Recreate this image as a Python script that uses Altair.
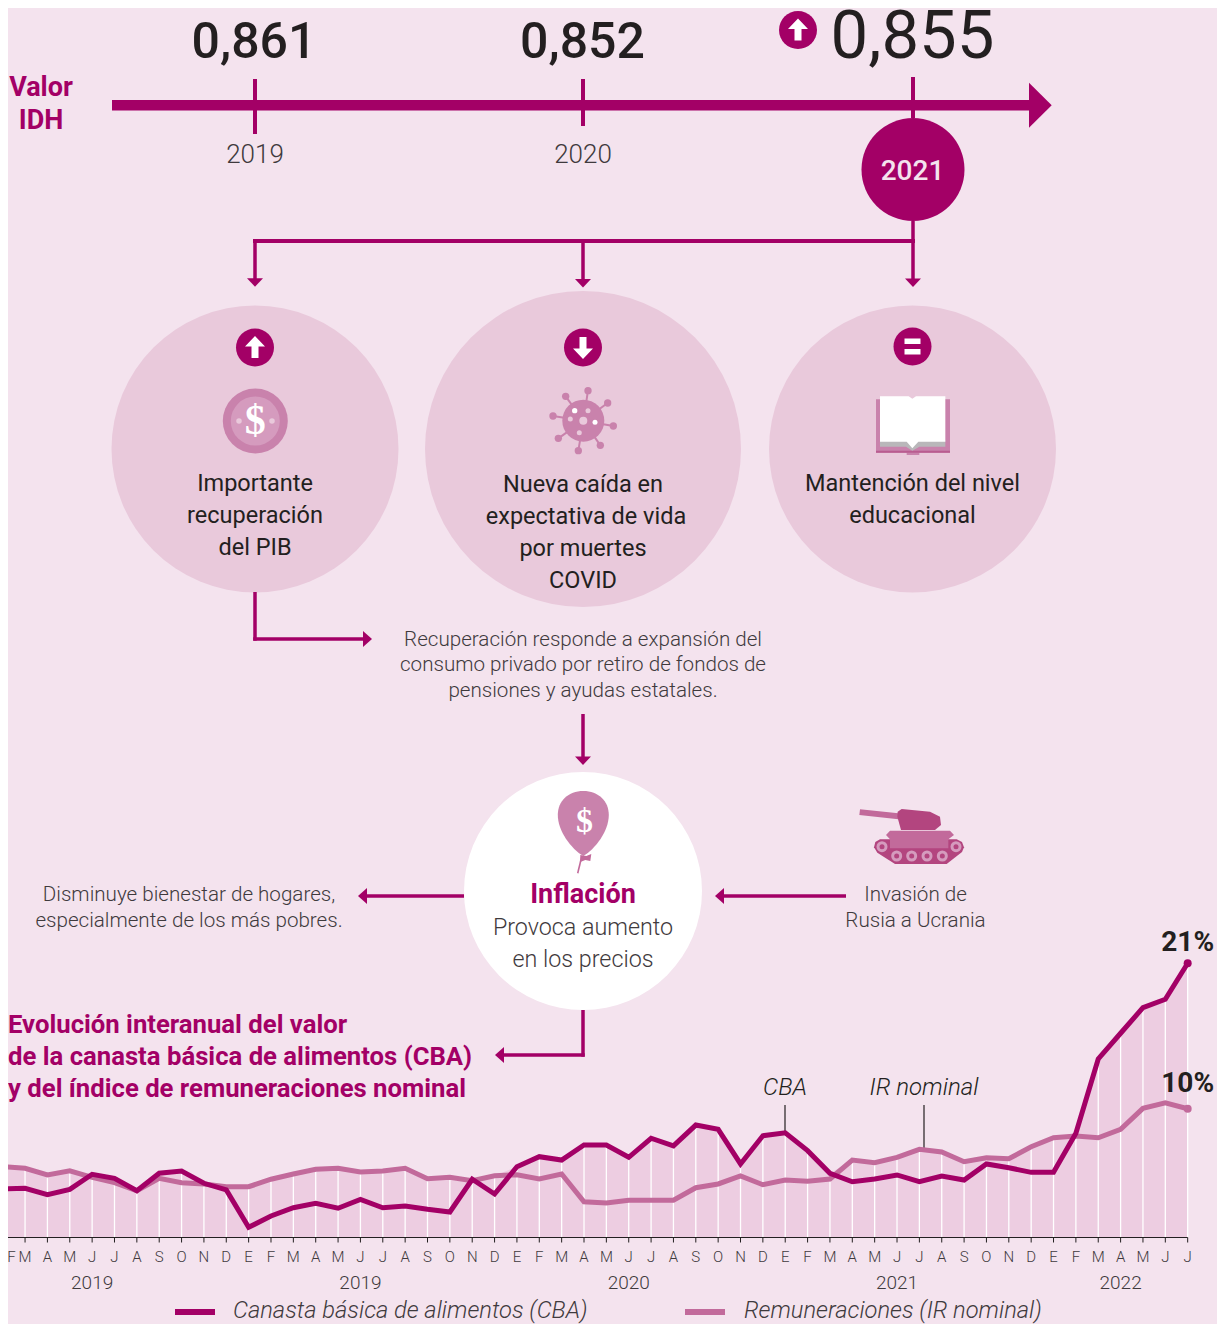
import altair as alt
import pandas as pd

# ---------- palette ----------
BG = "#F4E3EE"
DISC = "#E9C9DB"
FILL = "#EDCDE1"
MAG = "#A30066"
MID = "#C26A9B"
SOFT = "#C982AC"
PALE = "#D59BBE"
DARKP = "#B3457F"
INK = "#231F20"
GREY = "#3F3A3D"

# ---------- chart data (year-on-year %) ----------
MONTHS = list("FMAMJJASONDEFMAMJJASONDEFMAMJJASONDEFMAMJJASONDEFMAMJJ")[:54]
CBA = [3.71, 3.77, 3.28, 3.69, 4.84, 4.53, 3.58, 4.92, 5.09, 4.15, 3.64, 0.78,
       1.65, 2.28, 2.62, 2.24, 2.92, 2.28, 2.41, 2.16, 1.95, 4.46, 3.33, 5.42,
       6.19, 5.93, 7.08, 7.08, 6.14, 7.60, 7.01, 8.61, 8.28, 5.63, 7.79, 8.02,
       6.65, 4.92, 4.27, 4.48, 4.79, 4.27, 4.71, 4.40, 5.63, 5.34, 4.99, 4.99,
       7.98, 13.67, 15.64, 17.60, 18.24, 21.0]
IR = [5.42, 5.30, 4.79, 5.11, 4.61, 4.20, 3.58, 4.53, 4.20, 4.10, 3.89, 3.89,
      4.46, 4.86, 5.22, 5.30, 5.02, 5.09, 5.30, 4.50, 4.61, 4.35, 4.73, 4.81,
      4.48, 4.86, 2.74, 2.64, 2.85, 2.85, 2.85, 3.81, 4.10, 4.71, 4.04, 4.40,
      4.30, 4.48, 5.93, 5.73, 6.14, 6.75, 6.55, 5.80, 6.11, 6.03, 6.95, 7.64,
      7.77, 7.64, 8.28, 9.89, 10.32, 9.86]
YEAR_LABELS = [(4, "2019"), (16, "2019"), (28, "2020"), (40, "2021"), (50, "2022")]

# ---------- canvas ----------
W, H = 1209, 1316
RIGHT, BOTTOM = 8 + W, 8 + H
PX = alt.Scale(domain=[8, RIGHT], nice=False, zero=False)
PY = alt.Scale(domain=[BOTTOM, 8], nice=False, zero=False)
X0, DX = 2.7, 22.358
Y0, DY = 1237.5, 13.06
MX = alt.Scale(domain=[(8 - X0) / DX, (RIGHT - X0) / DX], nice=False, zero=False)
MY = alt.Scale(domain=[(Y0 - BOTTOM) / DY, (Y0 - 8) / DY], nice=False, zero=False)


def poly(points, k=3.0):
    return "M" + "L".join(f"{a / k:.2f},{b / k:.2f}" for a, b in points) + "Z"


ARROW_UP = "M0,-11.5L10,-1H3.5V10.5H-3.5V-1H-10Z"
ARROW_DN = "M0,11.5L10,1H3.5V-10.5H-3.5V1H-10Z"
EQUALS = "M-8,-8H8V-2.5H-8Z M-8,2.5H8V8H-8Z"
HEAD_D = "M-8,0L8,0L0,8.5Z"
HEAD_R = "M0,-8L0,8L9,0Z"
HEAD_L = "M0,-8L0,8L-9,0Z"
HEAD_BIG = "M0,-22.5L0,22.5L22.7,0Z"
BALLOON = "M0,0C15,0 25.5,10 25.5,24C25.5,40 12,58 0,65C-12,58 -25.5,40 -25.5,24C-25.5,10 -15,0 0,0Z"
KNOT = "M-3,64L3,65L8,63L7,70L2,69L-3,71Z"

BOOK_BACK = poly([(78, 238), (300, 238), (300, 398), (208, 398), (208, 405), (170, 405), (170, 398), (78, 398)])
BOOK_STRIP = poly([(78, 392), (300, 392), (300, 398), (78, 398)])
BOOK_GREY = poly([(90, 360), (286, 360), (286, 380), (208, 380), (187, 392), (168, 380), (90, 380)])
BOOK_PAGE = poly([(90, 229), (176, 229), (187, 236), (198, 229), (286, 229), (286, 365),
                  (205, 365), (187, 385), (170, 365), (90, 365)])
T_BARREL = poly([(60, 58), (175, 70), (175, 88), (58, 75)])
T_TURRET = poly([(173, 65), (185, 57), (270, 65), (300, 80), (303, 105), (285, 120), (183, 120), (172, 80)])
T_TRACK = poly([(120, 148), (350, 148), (366, 156), (372, 172), (366, 186), (320, 222), (165, 222),
                (112, 188), (102, 172), (106, 156)])
T_BODY = poly([(150, 122), (330, 122), (342, 135), (325, 148), (325, 175), (150, 175), (150, 148), (138, 135)])

# glyph rows: x, y, shape, size, fill
BACK_GLYPHS = [
    (255, 449, "circle", 287 ** 2, DISC),
    (583, 449, "circle", 316 ** 2, DISC),
    (912.5, 449, "circle", 287 ** 2, DISC),
    (583, 891, "circle", 238 ** 2, "#FFFFFF"),
]
GLYPHS = [
    (1029, 105.3, HEAD_BIG, 4, MAG),
    (913, 169.5, "circle", 103 ** 2, MAG),
    (798, 30, "circle", 38 ** 2, MAG), (798, 30, ARROW_UP, 4, "#FFFFFF"),
    (255, 347.5, "circle", 38 ** 2, MAG), (255, 347.5, ARROW_UP, 4, "#FFFFFF"),
    (583, 347.5, "circle", 38 ** 2, MAG), (583, 347.5, ARROW_DN, 4, "#FFFFFF"),
    (912.5, 346.5, "circle", 38 ** 2, MAG), (912.5, 346.5, EQUALS, 4, "#FFFFFF"),
    # connector arrow heads
    (255, 278.3, HEAD_D, 4, MAG), (583, 279, HEAD_D, 4, MAG), (913, 278.5, HEAD_D, 4, MAG),
    (363, 639, HEAD_R, 4, MAG), (583, 756.5, HEAD_D, 4, MAG),
    (367, 896, HEAD_L, 4, MAG), (724, 896, HEAD_L, 4, MAG), (504, 1055, HEAD_L, 4, MAG),
    # coin
    (255.3, 421, "circle", 65 ** 2, SOFT), (255.3, 421, "circle", 49 ** 2, PALE),
    (239, 421, "circle", 30, DISC), (272, 421, "circle", 30, DISC),
    # virus
    (583.3, 420.7, "circle", 42 ** 2, SOFT),
    (588, 410.7, "circle", 25, DISC), (574.7, 410.7, "circle", 28, "#FFFFFF"),
    (570.3, 419, "circle", 25, DISC), (583.3, 420.7, "circle", 64, DISC),
    (595, 422.3, "circle", 25, "#FFFFFF"), (579.3, 432.7, "circle", 25, DISC),
    # book
    (850, 320, BOOK_BACK, 4, SOFT), (850, 320, BOOK_STRIP, 4, "#B95C90"),
    (850, 320, BOOK_GREY, 4, "#B9B7BA"), (850, 320, BOOK_PAGE, 4, "#FFFFFF"),
    # balloon
    (583.3, 791, BALLOON, 4, SOFT), (583.3, 791, KNOT, 4, MID),
    # tank
    (840, 790, T_BARREL, 4, MID), (840, 790, T_TURRET, 4, DARKP),
    (840, 790, T_TRACK, 4, DARKP), (840, 790, T_BODY, 4, MID),
]
for wx, wy in [(126, 170), (170, 198), (215, 198), (261, 198), (307, 198), (348, 170)]:
    GLYPHS.append((840 + wx / 3, 790 + wy / 3, "circle", 121, PALE))
    GLYPHS.append((840 + wx / 3, 790 + wy / 3, "circle", 25, DARKP))

# virus knobs (crop coordinates of the spikes' ends)
VIRUS_KNOBS = [(204, 212), (137, 229), (263, 249), (99, 288), (280, 318), (115, 355), (241, 376), (175, 392)]
VC = (190, 302)

# rule rows: x, y, x2, y2, width, colour
RULES = [
    (112, 105.3, 1030, 105.3, 10.5, MAG),
    (255, 79, 255, 134, 4, MAG),
    (583, 79, 583, 126, 4, MAG),
    (913, 77, 913, 118, 4, MAG),
    (253, 241, 915, 241, 4, MAG),
    (255, 239, 255, 279, 3.5, MAG),
    (583, 241, 583, 280, 3.5, MAG),
    (913, 221, 913, 279, 3.5, MAG),
    (255, 592, 255, 640.7, 3.5, MAG),
    (253.2, 639, 364, 639, 3.5, MAG),
    (583, 714, 583, 757, 3.5, MAG),
    (464, 896, 366, 896, 3.5, MAG),
    (846, 896, 723, 896, 3.5, MAG),
    (583, 1010, 583, 1056.7, 3.5, MAG),
    (584.7, 1055, 503, 1055, 3.5, MAG),
    (581.7, 856.7, 577.7, 873.3, 1.6, MID),
    (912.3, 400, 912.3, 447, 1, "#F0D5E5"),
    (785, 1105, 785, 1133, 1.2, INK),
    (924, 1105, 924, 1150, 1.2, INK),
    (175, 1312, 215, 1312, 6, MAG),
    (685, 1312, 725, 1312, 6, MID),
]
for kx, ky in VIRUS_KNOBS:
    RULES.append((520 + VC[0] / 3, 320 + VC[1] / 3, 520 + kx / 3, 320 + ky / 3, 2, SOFT))
KNOB_GLYPHS = [(520 + kx / 3, 320 + ky / 3, "circle", 54, SOFT) for kx, ky in VIRUS_KNOBS]

X = alt.X("x:Q", scale=PX, axis=None)
Y = alt.Y("y:Q", scale=PY, axis=None)


def glyph_layer(rows):
    df = pd.DataFrame(rows, columns=["x", "y", "s", "z", "f"])
    return alt.Chart(df).mark_point(filled=True, opacity=1, strokeWidth=0).encode(
        x=X, y=Y,
        shape=alt.Shape("s:N", scale=None),
        size=alt.Size("z:Q", scale=None),
        fill=alt.Fill("f:N", scale=None),
        order=alt.Order("n:Q"),
    ).transform_window(n="row_number()")


def rule_layer(rows):
    df = pd.DataFrame(rows, columns=["x", "y", "x2", "y2", "w", "c"])
    return alt.Chart(df).mark_rule().encode(
        x=X, y=Y, x2="x2:Q", y2="y2:Q",
        strokeWidth=alt.StrokeWidth("w:Q", scale=None),
        color=alt.Color("c:N", scale=None),
    )


def text_layer(rows, size, color, weight=400, style="normal", align="center", font="Roboto"):
    df = pd.DataFrame(rows, columns=["x", "y", "t"])
    return alt.Chart(df).mark_text(
        fontSize=size, color=color, fontWeight=weight, fontStyle=style,
        align=align, baseline="middle", font=font,
    ).encode(x=X, y=Y, text="t:N")


texts = [
    text_layer([(254, 43, "0,861"), (582.5, 43, "0,852")], 50, INK, 500),
    text_layer([(912.5, 38, "0,855")], 67, INK, 400),
    text_layer([(41, 87.5, "Valor"), (41, 120.5, "IDH")], 27, MAG, 700),
    text_layer([(255, 155, "2019"), (583, 155, "2020")], 26, GREY, 300),
    text_layer([(912.5, 171.5, "2021")], 28, BG, 500),
    text_layer([(255, 484, "Importante"), (255, 516, "recuperación"), (255, 548, "del PIB"),
                (583, 485, "Nueva caída en"), (586, 517, "expectativa de vida"),
                (583, 549, "por muertes"), (583, 581, "COVID"),
                (912.5, 484, "Mantención del nivel"), (912.5, 516, "educacional")], 23.5, INK, 400),
    text_layer([(583, 640, "Recuperación responde a expansión del"),
                (583, 665, "consumo privado por retiro de fondos de"),
                (583, 691, "pensiones y ayudas estatales."),
                (189, 895, "Disminuye bienestar de hogares,"),
                (189, 921, "especialmente de los más pobres."),
                (915.5, 895, "Invasión de"),
                (915.5, 921, "Rusia a Ucrania")], 20.6, GREY, 300),
    text_layer([(583, 895, "Inflación")], 27, MAG, 700),
    text_layer([(583, 928, "Provoca aumento"), (583, 960, "en los precios")], 23.3, GREY, 300),
    text_layer([(8, 1025, "Evolución interanual del valor"),
                (8, 1057, "de la canasta básica de alimentos (CBA)"),
                (8, 1089, "y del índice de remuneraciones nominal")], 25.7, MAG, 700, align="left"),
    text_layer([(785, 1088, "CBA"), (924, 1088, "IR nominal")], 24, INK, 300, style="italic"),
    text_layer([(233, 1310.5, "Canasta básica de alimentos (CBA)"),
                (744, 1310.5, "Remuneraciones (IR nominal)")], 23.7, GREY, 300, style="italic", align="left"),
    text_layer([(255.3, 421, "$")], 42, "#FFFFFF", 700, font="Liberation Serif"),
    text_layer([(584.5, 822, "$")], 34, "#FFFFFF", 700, font="Liberation Serif"),
    text_layer([(11.5, 1257, "F")], 15, GREY, 300),
]

annotations = alt.layer(
    glyph_layer(BACK_GLYPHS), rule_layer(RULES), glyph_layer(GLYPHS), glyph_layer(KNOB_GLYPHS), *texts
)

# ---------- the time series, through its own scales ----------
series = pd.DataFrame({"i": range(len(CBA)), "cba": CBA, "ir": IR, "m": MONTHS})
assert len(CBA) == len(IR) == len(MONTHS) == 54
IX = alt.X("i:Q", scale=MX, axis=None)
base = alt.Chart(series)

area = base.transform_calculate(top="max(datum.cba, datum.ir)").mark_area(color=FILL).encode(
    x=IX, y=alt.Y("top:Q", scale=MY, axis=None))
grid = base.transform_calculate(top="max(datum.cba, datum.ir)", zero="0").mark_rule(
    color="#FFFFFF", strokeWidth=1.3
).encode(x=IX, y=alt.Y("top:Q", scale=MY, axis=None), y2="zero:Q")
baseline = alt.Chart(pd.DataFrame({"a": [-1], "b": [53], "v": [0]})).mark_rule(
    color=INK, strokeWidth=1.2
).encode(x=alt.X("a:Q", scale=MX, axis=None), x2="b:Q", y=alt.Y("v:Q", scale=MY, axis=None))
ticks = base.mark_rule(color=INK, strokeWidth=1).encode(
    x=IX, y=alt.value(Y0 - 8), y2=alt.value(Y0 - 8 + 5))
month_labels = base.transform_filter("datum.i > 0").mark_text(
    fontSize=15, fontWeight=300, color=GREY, font="Roboto", baseline="middle"
).encode(x=IX, y=alt.value(1257 - 8), text="m:N")
line_ir = base.mark_line(color=MID, strokeWidth=5, strokeJoin="miter").encode(
    x=IX, y=alt.Y("ir:Q", scale=MY, axis=None))
line_cba = base.mark_line(color=MAG, strokeWidth=5, strokeJoin="miter").encode(
    x=IX, y=alt.Y("cba:Q", scale=MY, axis=None))
last = base.transform_filter("datum.i == 53")
dot_ir = last.mark_point(filled=True, opacity=1, color=MID, size=64, strokeWidth=0).encode(
    x=IX, y=alt.Y("ir:Q", scale=MY, axis=None))
dot_cba = last.mark_point(filled=True, opacity=1, color=MAG, size=64, strokeWidth=0).encode(
    x=IX, y=alt.Y("cba:Q", scale=MY, axis=None))
lab_kw = dict(fontSize=28, fontWeight=700, color=INK, font="Roboto", baseline="middle")
lab_cba = last.transform_calculate(lbl="'21%'").mark_text(dy=-20, **lab_kw).encode(
    x=IX, y=alt.Y("cba:Q", scale=MY, axis=None), text="lbl:N")
lab_ir = last.transform_calculate(lbl="'10%'").mark_text(dy=-25, **lab_kw).encode(
    x=IX, y=alt.Y("ir:Q", scale=MY, axis=None), text="lbl:N")
years = alt.Chart(pd.DataFrame(YEAR_LABELS, columns=["i", "t"])).mark_text(
    fontSize=19, fontWeight=300, color=GREY, font="Roboto", baseline="middle"
).encode(x=IX, y=alt.value(1283 - 8), text="t:N")

timeseries = alt.layer(area, grid, baseline, ticks, month_labels, line_ir, line_cba,
                       dot_ir, dot_cba, lab_cba, lab_ir, years)

chart = alt.layer(annotations, timeseries).resolve_scale(x="independent", y="independent").properties(
    width=W, height=H, background=BG, padding=0,
    autosize=alt.AutoSizeParams(type="none", contains="padding"),
).configure_view(stroke=None)

chart.save("out.html", embed_options={"renderer": "svg", "actions": False})
